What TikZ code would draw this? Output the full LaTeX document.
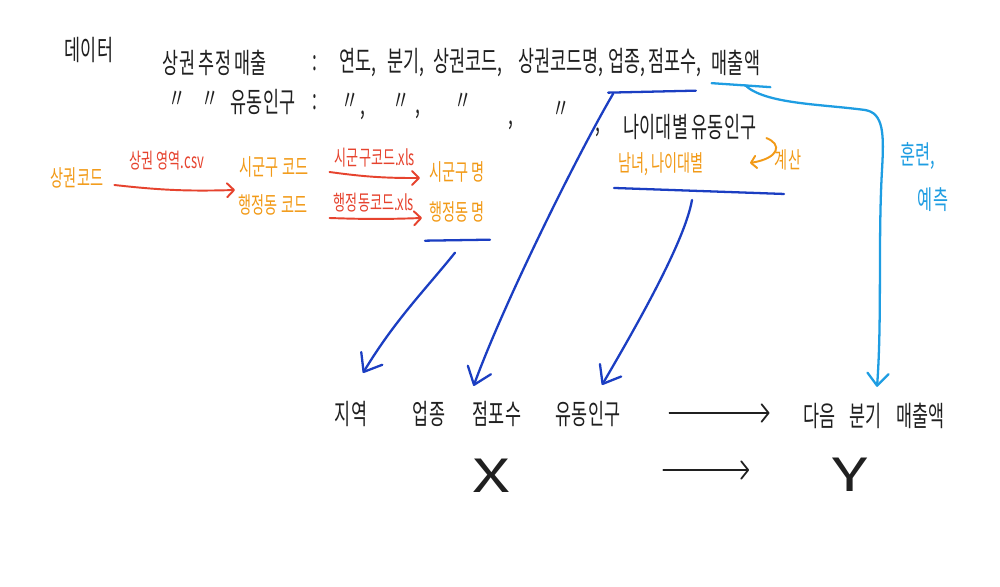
\documentclass[tikz,border=0pt]{standalone}
\usepackage{fontspec}
\newfontfamily\hand[FakeStretch=0.62]{Noto Sans CJK KR}
\newfontfamily\handx[FakeStretch=1.45]{Noto Sans CJK KR}
\usetikzlibrary{arrows.meta,calc}
\definecolor{inkblack}{HTML}{202020}
\definecolor{inkorange}{HTML}{F29A17}
\definecolor{inkred}{HTML}{E6432E}
\definecolor{inkblue}{HTML}{1B3EC2}
\definecolor{inksky}{HTML}{1E9DE2}

\begin{document}
\begin{tikzpicture}[x=0.2mm, y=-0.2mm,
    txt/.style={inner sep=0pt, text=inkblack, font=\hand\fontsize{16}{18}\selectfont},
    otxt/.style={inner sep=0pt, text=inkorange, font=\hand\fontsize{13}{15}\selectfont},
    ftxt/.style={inner sep=0pt, text=inkred, font=\hand\fontsize{12}{14}\selectfont},
    stxt/.style={inner sep=0pt, text=inksky, font=\hand\fontsize{15}{17}\selectfont},
    btxt/.style={inner sep=0pt, text=inkblack, font=\handx\fontsize{26}{28}\selectfont},
    redarrow/.style={draw=inkred, line width=1.1pt, line cap=round, -{Straight Barb[length=4pt, width=8pt, round]}},
    calcarrow/.style={draw=inkorange, line width=1.1pt, line cap=round, -{Straight Barb[length=3pt, width=7pt, round]}},
    bluearrow/.style={draw=inkblue, line width=1.3pt, line cap=round, -{Straight Barb[length=9pt, width=14pt, round]}},
    skyarrow/.style={draw=inksky, line width=1.3pt, line cap=round, -{Straight Barb[length=7pt, width=12pt, round]}},
    blackarrow/.style={draw=inkblack, line width=1pt, line cap=round, -{Straight Barb[length=4pt, width=10pt, round]}},
    blueline/.style={draw=inkblue, line width=1.3pt, line cap=round},
    skyline/.style={draw=inksky, line width=1.3pt, line cap=round}]

    \fill[white] (0, 0) rectangle (1000, 587);
    \useasboundingbox (0, 0) rectangle (1000, 587);

    % top rows
    \node[txt] (data)  at ( 89,  50) {데이터};
    \node[txt] (rec)   at (215,  63) {상권 추정 매출};
    \node[txt] (col1)  at (315,  63) {:};
    \node[txt] (yr)    at (358,  63) {연도,};
    \node[txt] (qt)    at (406,  63) {분기,};
    \node[txt] (cd)    at (468,  63) {상권코드,};
    \node[txt] (cn)    at (561,  63) {상권코드명,};
    \node[txt] (ind)   at (627,  63) {업종,};
    \node[txt] (st)    at (675,  63) {점포수,};
    \node[txt] (sales) at (736,  63) {매출액};

    \node[txt] (pop)   at (263, 102) {유동인구};
    \node[txt] (col2)  at (315, 102) {:};
    \foreach \x/\y [count=\i] in {177/100, 210/100, 350/102, 401/102, 463/102, 561/110}
        \node[txt] (dt\i) at (\x, \y) {〃};
    \foreach \x/\y [count=\i] in {363/115, 418/114, 511/125, 598/132}
        \node[txt, anchor=base] (cm\i) at (\x, \y) {,};
    \node[txt] (agepop) at (690, 127) {나이대별 유동인구};

    % code lookup
    \node[otxt] (code)   at ( 77, 178) {상권코드};
    \node[otxt] (sgc)    at (274, 167) {시군구 코드};
    \node[otxt] (hdc)    at (273, 205) {행정동 코드};
    \node[otxt] (sgn)    at (457, 172) {시군구 명};
    \node[otxt] (hdn)    at (457, 212) {행정동 명};
    \node[otxt] (sexage) at (661, 164) {남녀, 나이대별};
    \node[otxt] (calc)   at (788, 160) {계산};

    \node[ftxt] (f1) at (167, 161) {상권 영역.csv};
    \node[ftxt] (f2) at (375, 158) {시군구코드.xls};
    \node[ftxt] (f3) at (374, 203) {행정동코드.xls};

    \node[stxt] (tr) at (918, 156) {훈련,};
    \node[stxt] (pr) at (933, 200) {예측};

    % bottom
    \node[txt] (area) at (351, 414) {지역};
    \node[txt] (bind) at (429, 414) {업종};
    \node[txt] (bst)  at (497, 414) {점포수};
    \node[txt] (bpop) at (588, 414) {유동인구};
    \node[txt] (next) at (874, 416) {다음\enspace 분기\enspace 매출액};
    \node[btxt] (X) at (491, 476) {X};
    \node[btxt] (Y) at (850, 475) {Y};

    % arrows
    \draw[redarrow] ($(code.east)+(11,7)$) to[bend right=4] ($($(sgc.south west)!.5!(hdc.north west)$)+(-4,4)$);
    \draw[redarrow] ($(sgc.east)+(21,5)$) to[bend right=4] ($(sgn.west)+(-9,6)$);
    \draw[redarrow] ($(hdc.east)+(22,13)$) to[bend right=2] ($(hdn.west)+(-7,6)$);
    \draw[calcarrow] ($(agepop.south east)+(10,-2)$) .. controls (782, 144) and (780, 158) .. ($(sexage.east)+(46,-1)$);

    \draw[blueline] ($(hdn.south west)+(-4,18)$) -- ($(hdn.south east)+(5,17)$);
    \draw[blueline] ($(ind.south west)+(0,15)$) -- ($(st.south east)+(-6,13)$);
    \draw[blueline] ($(sexage.south west)+(-4,12)$) -- ($(sexage.south east)+(80,18)$);
    \draw[skyline] ($(sales.south west)+(0,7)$) -- ($(sales.south east)+(10,11)$);

    \draw[bluearrow] ($(hdn.south)+(-2,30)$) .. controls (425, 290) and (395, 320) .. ($(area.north)+(12,-28)$);
    \draw[bluearrow] ($(ind.south west)+(5,16)$) .. controls (580, 150) and (505, 300) .. ($(bst.north west)+(1,-15)$);
    \draw[bluearrow] ($(sexage.south)+(31,24)$) .. controls (685, 240) and (640, 320) .. ($(bpop.north)+(14,-16)$);
    \draw[skyarrow] ($(sales.south)+(9,9)$) .. controls (765, 104) and (820, 104) .. (865, 110)
        .. controls (884, 113) and (884, 135) .. (882, 170)
        .. controls (878, 240) and (882, 320) .. ($(next.north)+(3,-16)$);

    \draw[blackarrow] ($(bpop.east)+(49,-1)$) -- ($(next.west)+(-34,-3)$);
    \draw[blackarrow] ($(X.east)+(153,-6)$) -- ($(Y.west)+(-83,-5)$);
\end{tikzpicture}
\end{document}
